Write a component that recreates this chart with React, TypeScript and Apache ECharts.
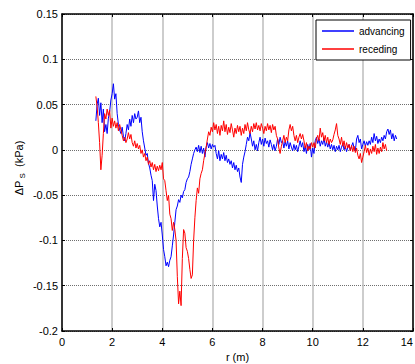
import React, { useEffect, useRef } from "react";
import * as echarts from "echarts";

// Radial distance samples (m): first sample and spacing for each record
const R_STEP = 0.05;
const ADVANCING_START = 1.35;
const RECEDING_START = 1.35;

// Pressure difference ΔP_S (kPa), advancing front
const advancing = [
  0.032, 0.050, 0.057, 0.038, 0.052, 0.030, 0.045, 0.020, 0.028, 0.018,
  0.035, 0.042, 0.055, 0.062, 0.073, 0.056, 0.062, 0.040, 0.028, 0.022,
  0.018, 0.025, 0.015, 0.010, 0.018, 0.028, 0.022, 0.034, 0.026, 0.038,
  0.030, 0.040, 0.034, 0.036, 0.043, 0.030, 0.036, 0.020, 0.010, 0.002,
  -0.006, -0.004, -0.015, -0.020, -0.028, -0.034, -0.056, -0.038, -0.045, -0.062,
  -0.076, -0.085, -0.080, -0.094, -0.110, -0.118, -0.128, -0.124, -0.129, -0.122,
  -0.118, -0.106, -0.094, -0.080, -0.066, -0.062, -0.055, -0.058, -0.050, -0.053,
  -0.046, -0.044, -0.036, -0.032, -0.030, -0.024, -0.016, -0.010, -0.004, 0.000,
  0.003, -0.002, 0.005, -0.003, 0.004, -0.004, 0.002, -0.008, 0.003, 0.008,
  0.002, 0.007, 0.001, 0.006, 0.003, 0.005, -0.004, -0.010, -0.001, -0.012,
  -0.005, -0.010, -0.003, -0.012, -0.006, -0.014, -0.010, -0.016, -0.012, -0.020,
  -0.014, -0.022, -0.017, -0.024, -0.020, -0.030, -0.036, -0.016, -0.008, -0.002,
  0.006, 0.014, 0.010, 0.019, 0.012, 0.004, 0.010, 0.000, 0.006, -0.001,
  0.008, 0.014, 0.006, 0.012, 0.004, 0.013, 0.007, 0.010, 0.003, 0.011,
  0.006, 0.000, 0.006, -0.001, 0.004, 0.012, 0.006, 0.014, 0.008, 0.010,
  0.002, 0.009, 0.004, 0.010, 0.001, 0.008, 0.003, -0.001, 0.006, 0.000,
  0.005, -0.002, 0.004, 0.010, 0.003, 0.008, -0.002, 0.004, -0.004, 0.006,
  0.000, 0.007, -0.008, 0.002, -0.004, 0.010, 0.014, 0.007, 0.012, 0.004,
  0.010, 0.006, 0.013, 0.004, 0.009, 0.003, 0.008, 0.001, 0.006, 0.000,
  0.005, -0.002, 0.004, 0.000, 0.005, -0.002, 0.003, 0.007, 0.000, 0.004,
  -0.002, 0.003, 0.006, -0.001, 0.004, 0.008, 0.002, -0.001, 0.012, 0.016,
  0.008, 0.012, 0.001, 0.006, 0.010, 0.004, 0.009, 0.005, 0.010, 0.006,
  0.014, 0.008, 0.018, 0.010, 0.015, 0.007, 0.012, 0.008, 0.014, 0.010,
  0.016, 0.012, 0.020, 0.023, 0.017, 0.022, 0.012, 0.018, 0.010, 0.016,
  0.012,
];

// Pressure difference ΔP_S (kPa), receding front
const receding = [
  0.059, 0.048, 0.030, 0.008, -0.022, -0.006, 0.018, 0.040, 0.034, 0.045,
  0.038, 0.044, 0.024, 0.035, 0.026, 0.032, 0.024, 0.030, 0.021, 0.028,
  0.022, 0.016, 0.010, 0.014, 0.008, 0.012, 0.019, 0.012, 0.017, 0.008,
  0.004, 0.010, 0.002, 0.007, 0.001, 0.005, -0.004, 0.000, -0.008, -0.004,
  -0.012, -0.008, -0.016, -0.012, -0.019, -0.014, -0.022, -0.016, -0.024, -0.018,
  -0.023, -0.017, -0.022, -0.014, -0.032, -0.034, -0.045, -0.056, -0.050, -0.071,
  -0.076, -0.089, -0.080, -0.088, -0.100, -0.140, -0.170, -0.156, -0.172, -0.120,
  -0.088, -0.092, -0.108, -0.112, -0.120, -0.132, -0.142, -0.138, -0.100, -0.075,
  -0.056, -0.042, -0.048, -0.032, -0.026, -0.022, -0.012, -0.004, 0.003, 0.012,
  0.020, 0.016, 0.025, 0.020, 0.030, 0.022, 0.028, 0.018, 0.026, 0.016,
  0.027, 0.021, 0.032, 0.020, 0.028, 0.017, 0.025, 0.019, 0.029, 0.022,
  0.014, 0.024, 0.018, 0.027, 0.020, 0.026, 0.016, 0.024, 0.018, 0.028,
  0.021, 0.030, 0.022, 0.018, 0.026, 0.020, 0.029, 0.023, 0.030, 0.022,
  0.027, 0.021, 0.029, 0.024, 0.018, 0.026, 0.021, 0.029, 0.022, 0.027,
  0.019, 0.028, 0.022, 0.026, 0.016, 0.012, 0.002, -0.004, 0.004, 0.010,
  0.016, 0.008, 0.014, 0.010, 0.022, 0.028, 0.021, 0.026, 0.016, 0.010,
  0.016, 0.008, 0.014, 0.018, 0.012, 0.017, 0.010, 0.002, 0.008, -0.001,
  0.004, 0.001, 0.008, 0.003, 0.008, 0.002, 0.012, 0.016, 0.010, 0.024,
  0.014, 0.019, 0.010, 0.016, 0.008, 0.014, 0.006, 0.012, 0.008, 0.011,
  0.017, 0.022, 0.029, 0.016, 0.012, 0.006, 0.014, 0.004, 0.010, 0.001,
  0.008, 0.002, 0.006, -0.001, 0.005, -0.002, 0.004, -0.003, 0.002, -0.006,
  -0.010, -0.004, -0.014, -0.008, -0.002, 0.005, -0.003, 0.002, -0.006, 0.001,
  -0.004, 0.004, -0.002, 0.006, -0.005, 0.002, -0.004, 0.003, -0.002, 0.008,
  0.001, 0.006, -0.001,
];

const seriesNames = ["advancing", "receding"];
const seriesColors = ["#0000ff", "#ff0000"];

const FONT = "'Liberation Sans', Arial, Helvetica, sans-serif";

function toPairs(start: number, values: number[]) {
  return values.map((v, i) => [Number((start + i * R_STEP).toFixed(2)), v]);
}

export default function App() {
  const ref = useRef<HTMLDivElement>(null);

  useEffect(() => {
    if (!ref.current) return;
    const chart = echarts.init(ref.current, null, { renderer: "svg" });

    const frameAxis = {
      axisLine: { show: true, onZero: false, lineStyle: { color: "#000", width: 1.5 } },
      axisTick: { show: true, inside: true, length: 3, lineStyle: { color: "#000", width: 1 } },
    };

    chart.setOption({
      animation: false,
      backgroundColor: "#fff",
      grid: {
        left: 62,
        right: 2,
        top: 14,
        bottom: 33,
        containLabel: false,
        outerBoundsMode: "none",
      },
      legend: {
        orient: "vertical",
        left: 316,
        top: 20,
        padding: [5, 6, 5, 6],
        itemGap: 6,
        itemWidth: 32,
        itemHeight: 1.5,
        icon: "rect",
        borderColor: "#000",
        borderWidth: 1,
        backgroundColor: "#fff",
        data: seriesNames,
        textStyle: { fontFamily: FONT, fontSize: 10, color: "#000", lineHeight: 12 },
      },
      xAxis: [
        {
          type: "value",
          min: 0,
          max: 14,
          interval: 2,
          ...frameAxis,
          axisLabel: {
            fontFamily: FONT,
            fontSize: 11,
            color: "#000",
            margin: 5,
            alignMaxLabel: "right",
          },
          splitLine: { show: true, lineStyle: { color: "#bdbdbd", width: 1.5 } },
          name: "r (m)",
          nameLocation: "middle",
          nameGap: 20,
          nameTextStyle: { fontFamily: FONT, fontSize: 11, color: "#000" },
        },
        {
          type: "value",
          position: "top",
          min: 0,
          max: 14,
          interval: 2,
          ...frameAxis,
          axisLabel: { show: false },
          splitLine: { show: false },
        },
      ],
      yAxis: [
        {
          type: "value",
          min: -0.2,
          max: 0.15,
          interval: 0.05,
          ...frameAxis,
          axisLabel: { fontFamily: FONT, fontSize: 11, color: "#000", margin: 4 },
          splitLine: { show: true, lineStyle: { color: "#6f6f6f", width: 1, type: "dotted" } },
        },
        {
          type: "value",
          position: "right",
          min: -0.2,
          max: 0.15,
          interval: 0.05,
          ...frameAxis,
          axisLabel: { show: false },
          splitLine: { show: false },
        },
      ],
      graphic: [
        {
          type: "text",
          x: 19,
          y: 168,
          rotation: Math.PI / 2,
          style: {
            text: "{a|ΔP}{s| S}{a|  (kPa)}",
            align: "center",
            verticalAlign: "middle",
            fill: "#000",
            rich: {
              a: { fontFamily: FONT, fontSize: 11, fill: "#000", lineHeight: 14, verticalAlign: "middle" },
              s: { fontFamily: FONT, fontSize: 8, fill: "#000", lineHeight: 14, verticalAlign: "bottom", padding: [6, 0, 0, 0] },
            },
          },
        },
      ],
      series: [
        {
          name: seriesNames[0],
          type: "line",
          data: toPairs(ADVANCING_START, advancing),
          showSymbol: false,
          symbol: "none",
          lineStyle: { color: seriesColors[0], width: 1 },
          itemStyle: { color: seriesColors[0] },
          z: 3,
        },
        {
          name: seriesNames[1],
          type: "line",
          data: toPairs(RECEDING_START, receding),
          showSymbol: false,
          symbol: "none",
          lineStyle: { color: seriesColors[1], width: 1 },
          itemStyle: { color: seriesColors[1] },
          z: 4,
        },
      ],
    });

    return () => chart.dispose();
  }, []);

  return (
    <div
      ref={ref}
      style={{ position: "fixed", left: 0, top: 0, width: 415, height: 364 }}
    />
  );
}
